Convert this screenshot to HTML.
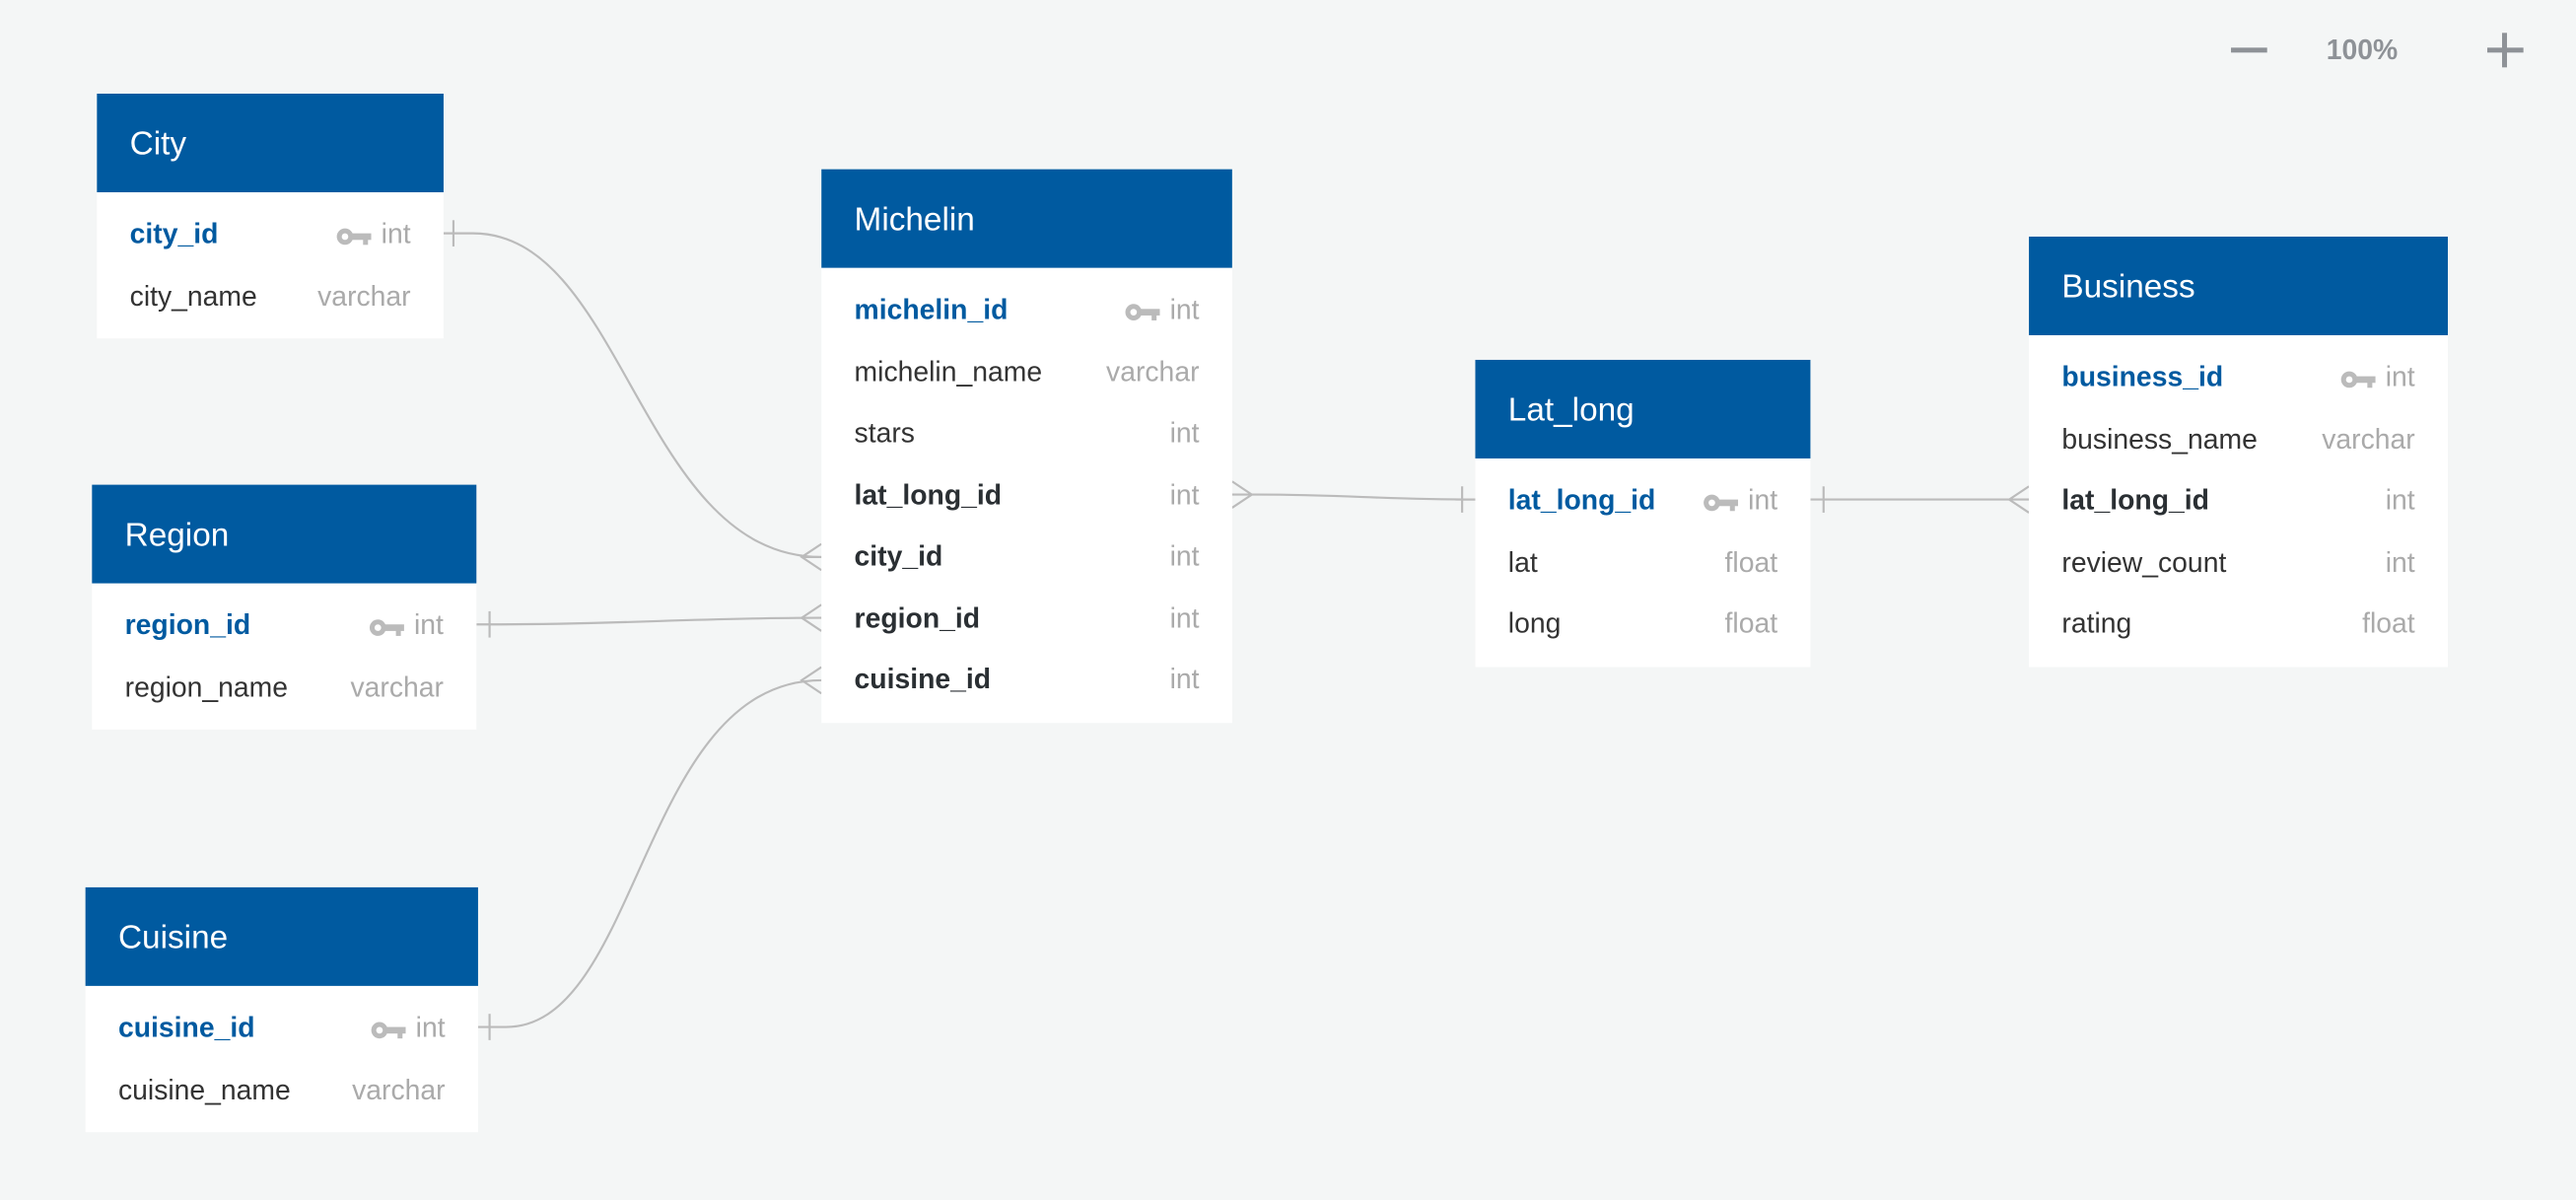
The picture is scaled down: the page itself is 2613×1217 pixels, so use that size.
<!DOCTYPE html>
<html><head><meta charset="utf-8"><style>
html,body{margin:0;padding:0;background:#f4f6f6;}
#wrap{width:1568px;height:730px;position:relative;transform:scale(1.66645);transform-origin:0 0;font-family:"Liberation Sans",Arial,sans-serif;}
.t{position:absolute;background:#fff;}
.h{background:#005aa0;color:#fff;height:60px;line-height:62px;font-size:20px;padding-left:20px;}
.r{height:37.5px;line-height:39px;font-size:17px;color:#333;padding:0 20px;position:relative;}
.r .ty{position:absolute;right:20px;top:0;color:#aaa;}
.pk{color:#005aa0;font-weight:bold;}
.fk{font-weight:bold;color:#2a2f33;}
.key{display:inline-block;vertical-align:middle;margin-right:6px;}
.body{padding-top:6px;}
svg{position:absolute;left:0;top:0;}
</style></head><body><div id="wrap">
<svg width="1568" height="730" fill="none" stroke="#bbb" stroke-width="1.3">
<path d="M270 142 H288 C380 142 390 339 500 339"/>
<path d="M276 134 V150"/>
<path d="M500 331 L488 339 L500 347 M488 339 H500"/>
<path d="M290 380 H300 C380 380 420 376 500 376"/>
<path d="M298 372 V388"/>
<path d="M500 368 L488 376 L500 384"/>
<path d="M291 625 H308 C390 625 390 414 500 414"/>
<path d="M298 617 V633"/>
<path d="M500 406 L488 414 L500 422"/>
<path d="M750 301 H765 C820 301 840 304 898 304"/>
<path d="M750 293 L762 301 L750 309"/>
<path d="M890 296 V312 M898 304 H886"/>
<path d="M1102 304 H1235"/>
<path d="M1110 296 V312"/>
<path d="M1235 296 L1223 304 L1235 312"/>
</svg>

<div class="t" style="left:59px;top:57px;width:211px;height:149px;">
<div class="h">City</div><div class="body">
<div class="r pk">city_id<span class="ty"><svg class="key" style="position:static" width="22" height="12"><circle cx="6" cy="6" r="5" fill="#bbb"/><circle cx="6" cy="6" r="2" fill="#fff"/><rect x="10" y="4" width="12" height="4" fill="#bbb"/><rect x="17" y="7" width="3" height="4" fill="#bbb"/></svg><span style="font-weight:normal">int</span></span></div>
<div class="r">city_name<span class="ty">varchar</span></div></div></div>

<div class="t" style="left:56px;top:295px;width:234px;height:149px;">
<div class="h">Region</div><div class="body">
<div class="r pk">region_id<span class="ty"><svg class="key" style="position:static" width="22" height="12"><circle cx="6" cy="6" r="5" fill="#bbb"/><circle cx="6" cy="6" r="2" fill="#fff"/><rect x="10" y="4" width="12" height="4" fill="#bbb"/><rect x="17" y="7" width="3" height="4" fill="#bbb"/></svg><span style="font-weight:normal">int</span></span></div>
<div class="r">region_name<span class="ty">varchar</span></div></div></div>

<div class="t" style="left:52px;top:540px;width:239px;height:149px;">
<div class="h">Cuisine</div><div class="body">
<div class="r pk">cuisine_id<span class="ty"><svg class="key" style="position:static" width="22" height="12"><circle cx="6" cy="6" r="5" fill="#bbb"/><circle cx="6" cy="6" r="2" fill="#fff"/><rect x="10" y="4" width="12" height="4" fill="#bbb"/><rect x="17" y="7" width="3" height="4" fill="#bbb"/></svg><span style="font-weight:normal">int</span></span></div>
<div class="r">cuisine_name<span class="ty">varchar</span></div></div></div>

<div class="t" style="left:500px;top:103px;width:250px;height:337px;">
<div class="h">Michelin</div><div class="body">
<div class="r pk">michelin_id<span class="ty"><svg class="key" style="position:static" width="22" height="12"><circle cx="6" cy="6" r="5" fill="#bbb"/><circle cx="6" cy="6" r="2" fill="#fff"/><rect x="10" y="4" width="12" height="4" fill="#bbb"/><rect x="17" y="7" width="3" height="4" fill="#bbb"/></svg><span style="font-weight:normal">int</span></span></div>
<div class="r">michelin_name<span class="ty">varchar</span></div>
<div class="r">stars<span class="ty">int</span></div>
<div class="r fk">lat_long_id<span class="ty" style="font-weight:normal">int</span></div>
<div class="r fk">city_id<span class="ty" style="font-weight:normal">int</span></div>
<div class="r fk">region_id<span class="ty" style="font-weight:normal">int</span></div>
<div class="r fk">cuisine_id<span class="ty" style="font-weight:normal">int</span></div></div></div>

<div class="t" style="left:898px;top:219px;width:204px;height:187px;">
<div class="h">Lat_long</div><div class="body">
<div class="r pk">lat_long_id<span class="ty"><svg class="key" style="position:static" width="22" height="12"><circle cx="6" cy="6" r="5" fill="#bbb"/><circle cx="6" cy="6" r="2" fill="#fff"/><rect x="10" y="4" width="12" height="4" fill="#bbb"/><rect x="17" y="7" width="3" height="4" fill="#bbb"/></svg><span style="font-weight:normal">int</span></span></div>
<div class="r">lat<span class="ty">float</span></div>
<div class="r">long<span class="ty">float</span></div></div></div>

<div class="t" style="left:1235px;top:144px;width:255px;height:262px;">
<div class="h">Business</div><div class="body">
<div class="r pk">business_id<span class="ty"><svg class="key" style="position:static" width="22" height="12"><circle cx="6" cy="6" r="5" fill="#bbb"/><circle cx="6" cy="6" r="2" fill="#fff"/><rect x="10" y="4" width="12" height="4" fill="#bbb"/><rect x="17" y="7" width="3" height="4" fill="#bbb"/></svg><span style="font-weight:normal">int</span></span></div>
<div class="r">business_name<span class="ty">varchar</span></div>
<div class="r fk">lat_long_id<span class="ty" style="font-weight:normal">int</span></div>
<div class="r">review_count<span class="ty">int</span></div>
<div class="r">rating<span class="ty">float</span></div></div></div>

<div style="position:absolute;left:1358px;top:29px;width:22px;height:3px;background:#8e9297;"></div>
<div style="position:absolute;left:1416px;top:21px;font-size:17px;font-weight:bold;color:#8e9297;">100%</div>
<div style="position:absolute;left:1514px;top:29px;width:22px;height:3px;background:#8e9297;"></div>
<div style="position:absolute;left:1523px;top:20px;width:3px;height:21px;background:#8e9297;"></div>
</div></body></html>
